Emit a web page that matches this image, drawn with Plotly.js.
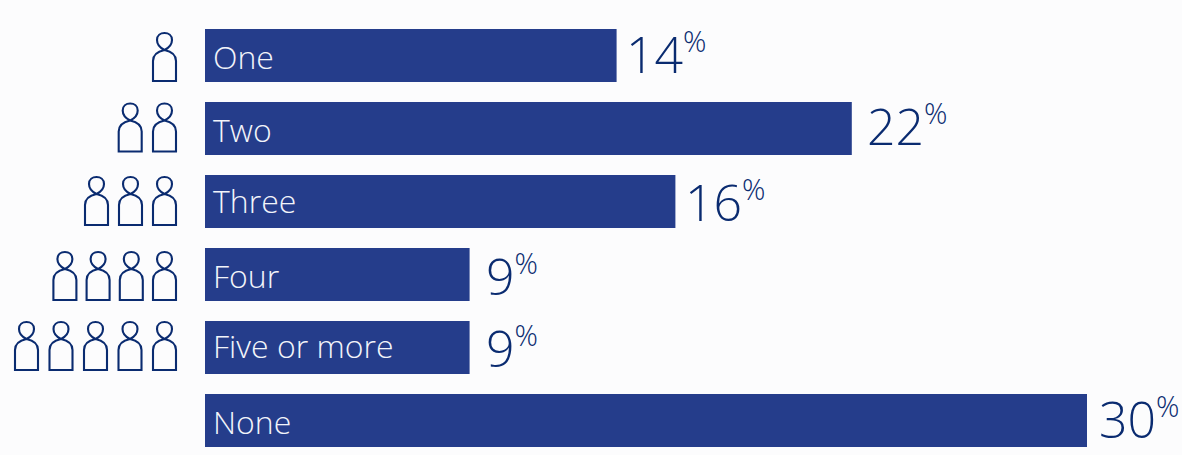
<!DOCTYPE html>
<html>
<head>
<meta charset="utf-8">
<script src="https://cdn.plot.ly/plotly-3.0.1.min.js"></script>
<style>html,body{margin:0;padding:0;background:#fcfcfd;overflow:hidden}#chart{width:1182px;height:455px}</style>
</head>
<body>
<div id="chart"></div>
<script>
const categories = ['One', 'Two', 'Three', 'Four', 'Five or more', 'None'];
const shares = [14, 22, 16, 9, 9, 30];
const peopleCounts = [1, 2, 3, 4, 5, 0];
const labelShifts = [-1, -1, 1, -1, 2, -1];
const valueShifts = [1.5, 2.5, 0, -1.5, -0.5, 1.5];
const valueGaps = [7, 13, 8, 14, 14, 10];
const peopleBaselines = [25.5, 23, 23.5, 25.5, 22.5, 0];
const peopleSpacing = [0, 34.3, 34, 33.2, 34.5, 0];

const NAVY = '#0a2b70';
const BAR = '#253d8b';
const FONT = '"Open Sans", sans-serif';
const UNIT = 29.4;        // pixels per percentage point
const ORIGIN = 205;       // pixel position of the zero line
const WIDTH = 1182, HEIGHT = 455;

// Outline of one person, measured in pixels from the middle of its feet
const personPath =
  'M -11.5 0 L 11.5 0 L 11.5 20 C 11.5 26 7 29.5 0 31 C -7 29.5 -11.5 26 -11.5 20 Z ' +
  'M 0 31 C -4 33 -7.5 37 -7.5 41 C -7.5 45.5 -4 48 0 48 C 4 48 7.5 45.5 7.5 41 C 7.5 37 4 33 0 31 Z';

const shapes = [];
peopleCounts.forEach((count, row) => {
  for (let i = 0; i < count; i++) {
    shapes.push({
      type: 'path', xref: 'x', yref: 'y',
      xsizemode: 'pixel', ysizemode: 'pixel',
      xanchor: (164.5 - peopleSpacing[row] * i - ORIGIN) / UNIT,
      yanchor: row + peopleBaselines[row] / 73,
      path: personPath,
      line: {color: NAVY, width: 2.1},
      fillcolor: 'rgba(0,0,0,0)'
    });
  }
});

const annotations = [];
categories.forEach((name, row) => {
  annotations.push({
    x: 0, y: row, xref: 'x', yref: 'y', text: name, showarrow: false,
    xanchor: 'left', yanchor: 'middle', xshift: 5.5, yshift: labelShifts[row],
    font: {family: FONT, size: 32, color: '#f2f4fa', weight: 300}
  });
  annotations.push({
    x: shares[row], y: row, xref: 'x', yref: 'y',
    text: shares[row] + '<sup><span style="font-size:29px">%</span></sup>',
    showarrow: false, xanchor: 'left', yanchor: 'middle',
    xshift: valueGaps[row], yshift: valueShifts[row],
    font: {family: FONT, size: 50, color: NAVY, weight: 300}
  });
});

Plotly.newPlot('chart', [{
  type: 'bar', orientation: 'h',
  y: categories.map((_, i) => i), x: shares,
  width: 53 / 73,
  marker: {color: BAR, line: {width: 0}},
  hoverinfo: 'skip'
}], {
  width: WIDTH, height: HEIGHT,
  margin: {l: 0, r: 0, t: 0, b: 0},
  paper_bgcolor: '#fcfcfd', plot_bgcolor: '#fcfcfd',
  showlegend: false,
  xaxis: {range: [-ORIGIN / UNIT, (WIDTH - ORIGIN) / UNIT], visible: false, fixedrange: true},
  yaxis: {range: [(HEIGHT - 55.5) / 73, -55.5 / 73], visible: false, fixedrange: true},
  shapes, annotations
}, {displayModeBar: false, staticPlot: true});
</script>
</body>
</html>
